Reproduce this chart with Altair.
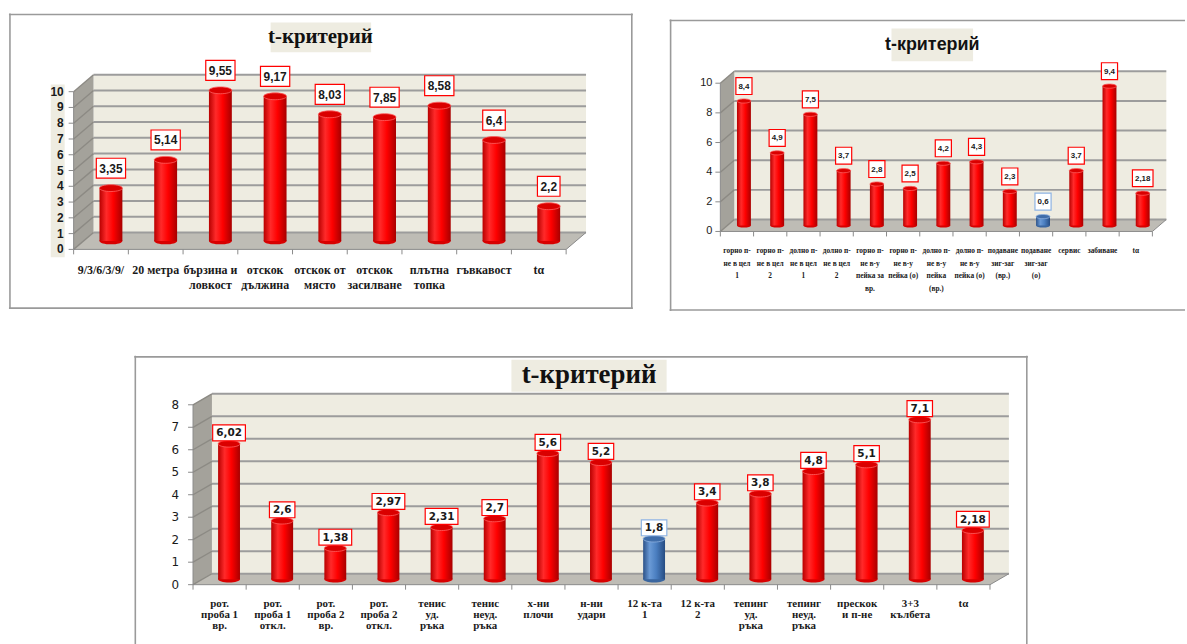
import altair as alt
import pandas as pd

# ---------------------------------------------------------------- values
cats_a = [["9/3/6/3/9/"], ["20 метра"], ["бързина и", "ловкост"], ["отскок", "дължина"],
          ["отскок от", "място"], ["отскок", "засилване"], ["плътна", "топка"],
          ["гъвкавост"], ["tα"]]
vals_a = [3.35, 5.14, 9.55, 9.17, 8.03, 7.85, 8.58, 6.4, 2.2]
blue_a = []
ticks_a = [0, 1, 2, 3, 4, 5, 6, 7, 8, 9, 10]

cats_b = [["горно п-", "не в цел", "1"], ["горно п-", "не в цел", "2"],
          ["долно п-", "не в цел", "1"], ["долно п-", "не в цел", "2"],
          ["горно п-", "не в-у", "пейка за", "вр."], ["горно п-", "не в-у", "пейка (о)"],
          ["долно п-", "не в-у", "пейка", "(вр.)"], ["долно п-", "не в-у", "пейка (о)"],
          ["подаване", "зиг-заг", "(вр.)"], ["подаване", "зиг-заг", "(о)"],
          ["сервис"], ["забиване"], ["tα"]]
vals_b = [8.4, 4.9, 7.5, 3.7, 2.8, 2.5, 4.2, 4.3, 2.3, 0.6, 3.7, 9.4, 2.18]
blue_b = [9]
ticks_b = [0, 2, 4, 6, 8, 10]

cats_c = [["рот.", "проба 1", "вр."], ["рот.", "проба 1", "откл."],
          ["рот.", "проба 2", "вр."], ["рот.", "проба 2", "откл."],
          ["тенис", "уд.", "ръка"], ["тенис", "неуд.", "ръка"],
          ["х-ни", "плочи"], ["н-ни", "удари"], ["12 к-та", "1"], ["12 к-та", "2"],
          ["тепинг", "уд.", "ръка"], ["тепинг", "неуд.", "ръка"],
          ["прескок", "и п-не"], ["3+3", "кълбета"], ["tα"]]
vals_c = [6.02, 2.6, 1.38, 2.97, 2.31, 2.7, 5.6, 5.2, 1.8, 3.4, 3.8, 4.8, 5.1, 7.1, 2.18]
blue_c = [8]
ticks_c = [0, 1, 2, 3, 4, 5, 6, 7, 8]

TITLE = "t-критерий"

# ---------------------------------------------------------------- styling
SERIF = "Liberation Serif"
NARROW = "'Liberation Sans Narrow', 'Liberation Sans'"
WIDE = "DejaVu Sans"
ELLIPSE = "M-1,0A1,0.3,0,1,1,1,0A1,0.3,0,1,1,-1,0Z"


def grad(stops):
    return alt.LinearGradient(
        gradient="linear", x1=0, x2=1, y1=0, y2=0,
        stops=[alt.GradientStop(offset=o, color=c) for o, c in stops])


RED = dict(body=grad([(0, "#B80000"), (0.3, "#FF2A2A"), (0.6, "#FF0000"), (1, "#A80000")]),
           cap="#DA0000", rim="#FF6060", foot="#D80000", box="#FF0000")
BLUE = dict(body=grad([(0, "#2B5188"), (0.3, "#6A9AD6"), (0.6, "#4A7EC0"), (1, "#264C82")]),
            cap="#3F6DAA", rim="#8DB0DE", foot="#3A66A0", box="#8EB4E3")

# pixel geometry of each panel (view box, frame, axis origin, depth of the 3-D box)
GEO_A = dict(view=(7, 10, 627, 299), frame=(7, 10, 634, 307), sides="LTRB",
             x0=72, y0=247, slot=55, unit=15.85, dx=20, dy=17, bar_w=23,
             lift=20, box_h=20, digit_w=6.7, comma_w=3.3, box_pad=6,
             val_font=NARROW, val_size=12,
             ylab_x=62, ylab_font=NARROW, ylab_size=12, ylab_weight="bold", ylab_bg=(49, 63),
             cat_y=268, cat_lh=15, cat_size=12,
             title_box=(270, 19, 371, 49), title_xy=(320, 34), title_font=SERIF, title_size=21)
GEO_B = dict(view=(667, 10, 518, 299), frame=(667, 16, 1185, 309), sides="LTB",
             x0=718, y0=229, slot=33.4, unit=14.9, dx=14, dy=12, bar_w=14,
             lift=15, box_h=17, digit_w=4.5, comma_w=2.2, box_pad=5,
             val_font=NARROW, val_size=8,
             ylab_x=710, ylab_font=NARROW, ylab_size=11, ylab_weight="normal", ylab_bg=None,
             cat_y=249, cat_lh=12.5, cat_size=7.4,
             title_box=(890, 25, 972, 58), title_xy=(931, 42), title_font=NARROW, title_size=18)
GEO_C = dict(view=(7, 350, 1025, 290), frame=(133, 350, 1031, 640), sides="LTR",
             x0=192, y0=580, slot=53.4, unit=22.6, dx=19, dy=11, bar_w=22,
             lift=11, box_h=16, digit_w=7.3, comma_w=4, box_pad=7,
             val_font=WIDE, val_size=10.5,
             ylab_x=178, ylab_font=WIDE, ylab_size=12, ylab_weight="normal", ylab_bg=None,
             cat_y=599, cat_lh=11.5, cat_size=11,
             title_box=(512, 354, 668, 386), title_xy=(590, 369), title_font=SERIF, title_size=27)


def fmt(v):
    return f"{v:g}".replace(".", ",")


def panel(cats, vals, blue, ticks, g):
    L, T, W, H = g["view"]
    x0, y0, slot, unit = g["x0"], g["y0"], g["slot"], g["unit"]

    def sx(px):
        return (px - x0) / slot

    def sy(py):
        return (y0 - py) / unit

    xs = alt.Scale(domain=[sx(L), sx(L + W)], nice=False, zero=False)
    ys = alt.Scale(domain=[sy(T + H), sy(T)], nice=False, zero=False)

    def X(f):
        return alt.X(f, type="quantitative", scale=xs, axis=None)

    def Y(f):
        return alt.Y(f, type="quantitative", scale=ys, axis=None)

    n = len(vals)
    top = max(ticks)
    ddx = g["dx"] / slot
    ddy = g["dy"] / unit
    layers = []

    def rules(segs, **style):
        df = pd.DataFrame(segs, columns=["x", "y", "x2", "y2"])
        return alt.Chart(df).mark_rule(**style).encode(x=X("x"), y=Y("y"), x2="x2", y2="y2")

    # frame around the panel
    fL, fT, fR, fB = g["frame"]
    side = {"L": (fL + 1, fT, fL + 1, fB), "T": (fL, fT + 1, fR, fT + 1),
            "R": (fR - 1, fT, fR - 1, fB), "B": (fL, fB - 1, fR, fB - 1)}
    segs = [(sx(a), sy(b), sx(c), sy(d)) for a, b, c, d in (side[s] for s in g["sides"])]
    layers.append(rules(segs, color="#9A9A9A", strokeWidth=1.6))

    # back wall
    wall = pd.DataFrame({"x": [ddx], "x2": [n + ddx], "y": [ddy], "y2": [top + ddy]})
    layers.append(alt.Chart(wall).mark_rect(fill="#EEECE1")
                  .encode(x=X("x"), x2="x2", y=Y("y"), y2="y2"))

    # left side wall and floor
    side_wall = pd.DataFrame({"x": [0, ddx], "y": [top, top + ddy], "y2": [0, ddy]})
    layers.append(alt.Chart(side_wall).mark_area(fill="#A4A29B", opacity=1)
                  .encode(x=X("x"), y=Y("y"), y2="y2"))
    floor = pd.DataFrame({"x": [0, ddx, n, n + ddx], "y": [0, ddy, ddy, ddy],
                          "y2": [0, 0, 0, ddy]})
    layers.append(alt.Chart(floor).mark_area(fill="#BEBCB5", opacity=1)
                  .encode(x=X("x"), y=Y("y"), y2="y2"))

    # gridlines on the back wall and across the side wall
    layers.append(rules([(ddx, t + ddy, n + ddx, t + ddy) for t in ticks],
                        color="#9C9C9C", strokeWidth=2))
    layers.append(rules([(0, t, ddx, t + ddy) for t in ticks],
                        color="#8C8A84", strokeWidth=1.4))

    # axis lines and tick marks
    axis = [(0, 0, n, 0), (n, 0, n + ddx, ddy), (0, 0, 0, top)]
    axis += [(sx(x0 - 5), t, 0, t) for t in ticks]
    axis += [(k, 0, k, sy(y0 + 5)) for k in range(n + 1)]
    layers.append(rules(axis, color="#8A8A8A", strokeWidth=1))

    # cylinders
    hw = g["bar_w"] / 2 / slot
    rows = []
    for i, v in enumerate(vals):
        c = i + 0.5 + ddx / 2
        txt = fmt(v)
        nd = sum(ch.isdigit() for ch in txt)
        bw = nd * g["digit_w"] + (len(txt) - nd) * g["comma_w"] + g["box_pad"]
        yc = v + ddy / 2 + g["lift"] / unit
        rows.append({"c": c, "l": c - hw, "r": c + hw, "yb": ddy / 2, "yt": v + ddy / 2,
                     "blue": i in blue, "txt": txt, "yc": yc,
                     "bl": c - bw / 2 / slot, "br": c + bw / 2 / slot,
                     "bb": yc - g["box_h"] / 2 / unit, "bt": yc + g["box_h"] / 2 / unit,
                     "bstroke": BLUE["box"] if i in blue else RED["box"]})
    bars = pd.DataFrame(rows)
    size = g["bar_w"] ** 2
    for is_blue, pal in ((False, RED), (True, BLUE)):
        sub = bars[bars["blue"] == is_blue]
        if sub.empty:
            continue
        base = alt.Chart(sub)
        layers.append(base.mark_point(shape=ELLIPSE, filled=True, size=size, fill=pal["foot"],
                                      opacity=1, strokeWidth=0)
                      .encode(x=X("c"), y=Y("yb")))
        layers.append(base.mark_rect(fill=pal["body"])
                      .encode(x=X("l"), x2="r", y=Y("yb"), y2="yt"))
        layers.append(base.mark_point(shape=ELLIPSE, filled=True, size=size, fill=pal["cap"],
                                      stroke=pal["rim"], strokeWidth=0.8, opacity=1)
                      .encode(x=X("c"), y=Y("yt")))

    # value boxes
    lab = alt.Chart(bars)
    layers.append(lab.mark_rect(fill="white", strokeWidth=1.2)
                  .encode(x=X("bl"), x2="br", y=Y("bb"), y2="bt",
                          stroke=alt.Stroke("bstroke:N", scale=None)))
    layers.append(lab.mark_text(font=g["val_font"], fontSize=g["val_size"], fontWeight="bold",
                                color="#1A1A1A", align="center", baseline="middle", dy=0.5)
                  .encode(x=X("c"), y=Y("yc"), text="txt:N"))

    # value axis labels
    if g["ylab_bg"]:
        a, b = g["ylab_bg"]
        bg = pd.DataFrame({"x": [sx(a)], "x2": [sx(b)], "y": [-0.5], "y2": [top + 0.45]})
        layers.append(alt.Chart(bg).mark_rect(fill="#EEECE1")
                      .encode(x=X("x"), x2="x2", y=Y("y"), y2="y2"))
    yl = pd.DataFrame({"x": sx(g["ylab_x"]), "y": ticks, "t": [str(t) for t in ticks]})
    layers.append(alt.Chart(yl).mark_text(font=g["ylab_font"], fontSize=g["ylab_size"],
                                          fontWeight=g["ylab_weight"], color="#1A1A1A",
                                          align="right", baseline="middle")
                  .encode(x=X("x"), y=Y("y"), text="t:N"))

    # category labels, one row per text line
    cl = pd.DataFrame([{"x": i + 0.5, "y": sy(g["cat_y"] + k * g["cat_lh"]), "t": s}
                       for i, lines in enumerate(cats) for k, s in enumerate(lines)])
    layers.append(alt.Chart(cl).mark_text(font=SERIF, fontSize=g["cat_size"], fontWeight="bold",
                                          color="#1A1A1A", align="center", baseline="middle")
                  .encode(x=X("x"), y=Y("y"), text="t:N"))

    # title plate
    a, b, c, d = g["title_box"]
    tb = pd.DataFrame({"x": [sx(a)], "x2": [sx(c)], "y": [sy(d)], "y2": [sy(b)]})
    layers.append(alt.Chart(tb).mark_rect(fill="#EEECE1")
                  .encode(x=X("x"), x2="x2", y=Y("y"), y2="y2"))
    tx, ty = g["title_xy"]
    tt = pd.DataFrame({"x": [sx(tx)], "y": [sy(ty)], "t": [TITLE]})
    layers.append(alt.Chart(tt).mark_text(font=g["title_font"], fontSize=g["title_size"],
                                          fontWeight="bold", color="#111111",
                                          align="center", baseline="middle")
                  .encode(x=X("x"), y=Y("y"), text="t:N"))

    return alt.layer(*layers).properties(width=W, height=H)


p1 = panel(cats_a, vals_a, blue_a, ticks_a, GEO_A)
p2 = panel(cats_b, vals_b, blue_b, ticks_b, GEO_B)
p3 = panel(cats_c, vals_c, blue_c, ticks_c, GEO_C)

chart = alt.vconcat(
    alt.hconcat(p1, p2, spacing=33),
    p3,
    spacing=41,
).properties(
    padding={"left": 7, "top": 10, "right": 0, "bottom": 0},
    background="white",
).configure_view(stroke="transparent")

chart.save("out.html", embed_options={"renderer": "svg", "actions": False})
